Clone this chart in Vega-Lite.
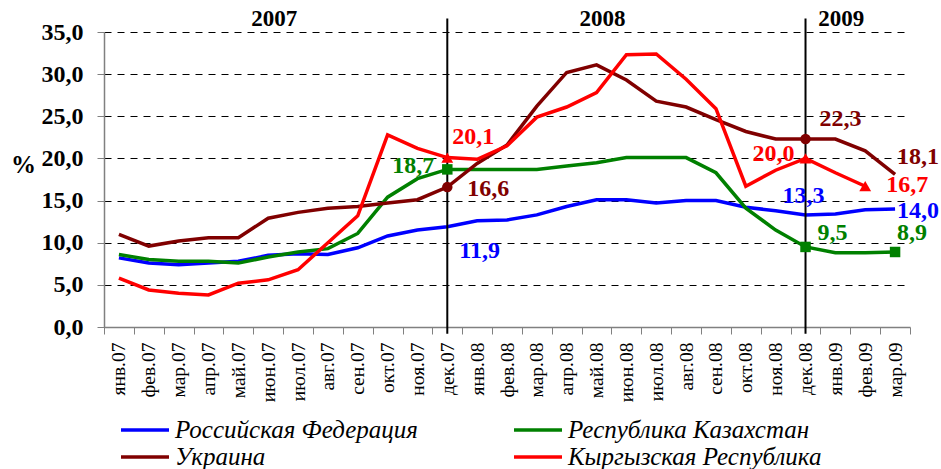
{
  "$schema": "https://vega.github.io/schema/vega-lite/v6.json",
  "width": 806,
  "height": 295,
  "padding": {"left": 10, "top": 8, "right": 5, "bottom": 5},
  "background": "white",
  "config": {
    "view": {"stroke": null},
    "font": "Liberation Serif",
    "locale": {"number": {"decimal": ",", "thousands": " ", "grouping": [3], "currency": ["", ""]}}
  },
  "datasets": {
    "series": [
      {"month": "янв.07", "country": "Российская Федерация", "value": 8.2},
      {"month": "фев.07", "country": "Российская Федерация", "value": 7.6},
      {"month": "мар.07", "country": "Российская Федерация", "value": 7.4},
      {"month": "апр.07", "country": "Российская Федерация", "value": 7.6},
      {"month": "май.07", "country": "Российская Федерация", "value": 7.8},
      {"month": "июн.07", "country": "Российская Федерация", "value": 8.5},
      {"month": "июл.07", "country": "Российская Федерация", "value": 8.7},
      {"month": "авг.07", "country": "Российская Федерация", "value": 8.6},
      {"month": "сен.07", "country": "Российская Федерация", "value": 9.4},
      {"month": "окт.07", "country": "Российская Федерация", "value": 10.8},
      {"month": "ноя.07", "country": "Российская Федерация", "value": 11.5},
      {"month": "дек.07", "country": "Российская Федерация", "value": 11.9},
      {"month": "янв.08", "country": "Российская Федерация", "value": 12.6},
      {"month": "фев.08", "country": "Российская Федерация", "value": 12.7},
      {"month": "мар.08", "country": "Российская Федерация", "value": 13.3},
      {"month": "апр.08", "country": "Российская Федерация", "value": 14.3},
      {"month": "май.08", "country": "Российская Федерация", "value": 15.1},
      {"month": "июн.08", "country": "Российская Федерация", "value": 15.1},
      {"month": "июл.08", "country": "Российская Федерация", "value": 14.7},
      {"month": "авг.08", "country": "Российская Федерация", "value": 15.0},
      {"month": "сен.08", "country": "Российская Федерация", "value": 15.0},
      {"month": "окт.08", "country": "Российская Федерация", "value": 14.2},
      {"month": "ноя.08", "country": "Российская Федерация", "value": 13.8},
      {"month": "дек.08", "country": "Российская Федерация", "value": 13.3},
      {"month": "янв.09", "country": "Российская Федерация", "value": 13.4},
      {"month": "фев.09", "country": "Российская Федерация", "value": 13.9},
      {"month": "мар.09", "country": "Российская Федерация", "value": 14.0},

      {"month": "янв.07", "country": "Республика Казахстан", "value": 8.6},
      {"month": "фев.07", "country": "Республика Казахстан", "value": 8.0},
      {"month": "мар.07", "country": "Республика Казахстан", "value": 7.8},
      {"month": "апр.07", "country": "Республика Казахстан", "value": 7.8},
      {"month": "май.07", "country": "Республика Казахстан", "value": 7.6},
      {"month": "июн.07", "country": "Республика Казахстан", "value": 8.3},
      {"month": "июл.07", "country": "Республика Казахстан", "value": 8.9},
      {"month": "авг.07", "country": "Республика Казахстан", "value": 9.3},
      {"month": "сен.07", "country": "Республика Казахстан", "value": 11.1},
      {"month": "окт.07", "country": "Республика Казахстан", "value": 15.4},
      {"month": "ноя.07", "country": "Республика Казахстан", "value": 17.6},
      {"month": "дек.07", "country": "Республика Казахстан", "value": 18.7},
      {"month": "янв.08", "country": "Республика Казахстан", "value": 18.7},
      {"month": "фев.08", "country": "Республика Казахстан", "value": 18.7},
      {"month": "мар.08", "country": "Республика Казахстан", "value": 18.7},
      {"month": "апр.08", "country": "Республика Казахстан", "value": 19.1},
      {"month": "май.08", "country": "Республика Казахстан", "value": 19.5},
      {"month": "июн.08", "country": "Республика Казахстан", "value": 20.1},
      {"month": "июл.08", "country": "Республика Казахстан", "value": 20.1},
      {"month": "авг.08", "country": "Республика Казахстан", "value": 20.1},
      {"month": "сен.08", "country": "Республика Казахстан", "value": 18.3},
      {"month": "окт.08", "country": "Республика Казахстан", "value": 14.1},
      {"month": "ноя.08", "country": "Республика Казахстан", "value": 11.5},
      {"month": "дек.08", "country": "Республика Казахстан", "value": 9.5},
      {"month": "янв.09", "country": "Республика Казахстан", "value": 8.8},
      {"month": "фев.09", "country": "Республика Казахстан", "value": 8.8},
      {"month": "мар.09", "country": "Республика Казахстан", "value": 8.9},

      {"month": "янв.07", "country": "Украина", "value": 11.0},
      {"month": "фев.07", "country": "Украина", "value": 9.6},
      {"month": "мар.07", "country": "Украина", "value": 10.2},
      {"month": "апр.07", "country": "Украина", "value": 10.6},
      {"month": "май.07", "country": "Украина", "value": 10.6},
      {"month": "июн.07", "country": "Украина", "value": 12.9},
      {"month": "июл.07", "country": "Украина", "value": 13.6},
      {"month": "авг.07", "country": "Украина", "value": 14.1},
      {"month": "сен.07", "country": "Украина", "value": 14.3},
      {"month": "окт.07", "country": "Украина", "value": 14.7},
      {"month": "ноя.07", "country": "Украина", "value": 15.1},
      {"month": "дек.07", "country": "Украина", "value": 16.6},
      {"month": "янв.08", "country": "Украина", "value": 19.4},
      {"month": "фев.08", "country": "Украина", "value": 21.6},
      {"month": "мар.08", "country": "Украина", "value": 26.2},
      {"month": "апр.08", "country": "Украина", "value": 30.2},
      {"month": "май.08", "country": "Украина", "value": 31.1},
      {"month": "июн.08", "country": "Украина", "value": 29.3},
      {"month": "июл.08", "country": "Украина", "value": 26.8},
      {"month": "авг.08", "country": "Украина", "value": 26.1},
      {"month": "сен.08", "country": "Украина", "value": 24.6},
      {"month": "окт.08", "country": "Украина", "value": 23.2},
      {"month": "ноя.08", "country": "Украина", "value": 22.3},
      {"month": "дек.08", "country": "Украина", "value": 22.3},
      {"month": "янв.09", "country": "Украина", "value": 22.3},
      {"month": "фев.09", "country": "Украина", "value": 20.9},
      {"month": "мар.09", "country": "Украина", "value": 18.1},

      {"month": "янв.07", "country": "Кыргызская Республика", "value": 5.8},
      {"month": "фев.07", "country": "Кыргызская Республика", "value": 4.4},
      {"month": "мар.07", "country": "Кыргызская Республика", "value": 4.0},
      {"month": "апр.07", "country": "Кыргызская Республика", "value": 3.8},
      {"month": "май.07", "country": "Кыргызская Республика", "value": 5.2},
      {"month": "июн.07", "country": "Кыргызская Республика", "value": 5.6},
      {"month": "июл.07", "country": "Кыргызская Республика", "value": 6.8},
      {"month": "авг.07", "country": "Кыргызская Республика", "value": 10.0},
      {"month": "сен.07", "country": "Кыргызская Республика", "value": 13.2},
      {"month": "окт.07", "country": "Кыргызская Республика", "value": 22.8},
      {"month": "ноя.07", "country": "Кыргызская Республика", "value": 21.2},
      {"month": "дек.07", "country": "Кыргызская Республика", "value": 20.1},
      {"month": "янв.08", "country": "Кыргызская Республика", "value": 19.9},
      {"month": "фев.08", "country": "Кыргызская Республика", "value": 21.5},
      {"month": "мар.08", "country": "Кыргызская Республика", "value": 24.9},
      {"month": "апр.08", "country": "Кыргызская Республика", "value": 26.1},
      {"month": "май.08", "country": "Кыргызская Республика", "value": 27.8},
      {"month": "июн.08", "country": "Кыргызская Республика", "value": 32.3},
      {"month": "июл.08", "country": "Кыргызская Республика", "value": 32.4},
      {"month": "авг.08", "country": "Кыргызская Республика", "value": 29.4},
      {"month": "сен.08", "country": "Кыргызская Республика", "value": 25.9},
      {"month": "окт.08", "country": "Кыргызская Республика", "value": 16.7},
      {"month": "ноя.08", "country": "Кыргызская Республика", "value": 18.6},
      {"month": "дек.08", "country": "Кыргызская Республика", "value": 20.0},
      {"month": "янв.09", "country": "Кыргызская Республика", "value": 18.3},
      {"month": "фев.09", "country": "Кыргызская Республика", "value": 16.7}
    ],
    "dividers": [{"month": "дек.07"}, {"month": "дек.08"}],
    "years": [
      {"month": "июн.07", "label": "2007"},
      {"month": "май.08", "label": "2008"},
      {"month": "янв.09", "label": "2009"}
    ]
  },
  "encoding": {
    "x": {
      "field": "month",
      "type": "ordinal",
      "scale": {
        "domain": ["янв.07","фев.07","мар.07","апр.07","май.07","июн.07","июл.07","авг.07","сен.07","окт.07","ноя.07","дек.07","янв.08","фев.08","мар.08","апр.08","май.08","июн.08","июл.08","авг.08","сен.08","окт.08","ноя.08","дек.08","янв.09","фев.09","мар.09"],
        "paddingInner": 0,
        "paddingOuter": 0
      },
      "axis": {
        "title": null,
        "labelAngle": -90,
        "labelFont": "Liberation Serif",
        "labelFontSize": 19.5,
        "labelColor": "black",
        "labelPadding": 8,
        "tickSize": 7,
        "tickBand": "extent",
        "tickColor": "#808080",
        "domainColor": "#808080",
        "domainWidth": 1.5,
        "grid": false
      }
    }
  },
  "layer": [
    {
      "data": {"name": "series"},
      "mark": {"type": "line", "strokeWidth": 3.5},
      "encoding": {
        "y": {
          "field": "value",
          "type": "quantitative",
          "scale": {"domain": [0, 35], "nice": false},
          "axis": {
            "values": [0, 5, 10, 15, 20, 25, 30, 35],
            "format": ".1f",
            "labelFont": "Liberation Serif",
            "labelFontSize": 24,
            "labelFontWeight": "bold",
            "labelColor": "black",
            "labelPadding": 14,
            "tickSize": 7,
            "tickColor": "#808080",
            "domainColor": "#808080",
            "domainWidth": 1.5,
            "grid": true,
            "gridColor": "black",
            "gridDash": [7, 6],
            "gridWidth": 1,
            "title": "%",
            "titleAngle": 0,
            "titleX": -81,
            "titleY": 132,
            "titleFont": "Liberation Serif",
            "titleFontSize": 25,
            "titleFontWeight": "bold",
            "titleColor": "black",
            "titleAlign": "center",
            "titleBaseline": "middle"
          }
        },
        "color": {
          "field": "country",
          "type": "nominal",
          "scale": {
            "domain": ["Российская Федерация", "Республика Казахстан", "Украина", "Кыргызская Республика"],
            "range": ["#0000FF", "#008000", "#800000", "#FF0000"]
          },
          "legend": {
            "title": null,
            "orient": "none",
            "direction": "horizontal",
            "legendX": 27,
            "legendY": 384,
            "columns": 2,
            "columnPadding": 89,
            "rowPadding": 0,
            "padding": 0,
            "symbolType": "M-2,0L2,0",
            "symbolSize": 576,
            "symbolStrokeWidth": 3.5,
            "labelFont": "Liberation Serif",
            "labelFontStyle": "italic",
            "labelFontSize": 25,
            "labelColor": "black",
            "labelOffset": 16,
            "labelLimit": 0
          }
        }
      }
    },
    {
      "data": {"name": "dividers"},
      "mark": {"type": "rule", "color": "black", "strokeWidth": 2},
      "encoding": {
        "y": {"datum": -0.8, "type": "quantitative", "scale": {"domain": [0, 35], "nice": false}},
        "y2": {"datum": 36.6}
      }
    },
    {
      "data": {"name": "years"},
      "mark": {"type": "text", "fontSize": 23, "fontWeight": "bold", "font": "Liberation Serif", "color": "black", "dx": 6, "baseline": "middle"},
      "encoding": {
        "y": {"datum": 36.5, "type": "quantitative", "scale": {"domain": [0, 35], "nice": false}},
        "text": {"field": "label"}
      }
    },
    {
      "data": {"name": "series"},
      "transform": [{"filter": "datum.country == 'Республика Казахстан' && (datum.month == 'дек.07' || datum.month == 'дек.08' || datum.month == 'мар.09')"}],
      "mark": {"type": "point", "shape": "square", "filled": true, "color": "#008000", "size": 110, "opacity": 1},
      "encoding": {"y": {"field": "value", "type": "quantitative", "scale": {"domain": [0, 35], "nice": false}}}
    },
    {
      "data": {"name": "series"},
      "transform": [{"filter": "datum.country == 'Украина' && (datum.month == 'дек.07' || datum.month == 'дек.08')"}],
      "mark": {"type": "point", "shape": "circle", "filled": true, "color": "#800000", "size": 110, "opacity": 1},
      "encoding": {"y": {"field": "value", "type": "quantitative", "scale": {"domain": [0, 35], "nice": false}}}
    },
    {
      "data": {"name": "series"},
      "transform": [{"filter": "datum.country == 'Кыргызская Республика' && (datum.month == 'дек.07' || datum.month == 'дек.08' || datum.month == 'фев.09')"}],
      "mark": {"type": "point", "shape": "triangle-up", "filled": true, "color": "#FF0000", "size": 140, "opacity": 1},
      "encoding": {"y": {"field": "value", "type": "quantitative", "scale": {"domain": [0, 35], "nice": false}}}
    },
    {
      "data": {"name": "series"},
      "transform": [{"filter": "datum.country == 'Республика Казахстан' && datum.month == 'дек.07'"}],
      "mark": {"type": "text", "font": "Liberation Serif", "fontSize": 24, "fontWeight": "bold", "baseline": "middle", "align": "right", "dx": -13, "dy": -3, "color": "#008000"},
      "encoding": {"y": {"field": "value", "type": "quantitative"}, "text": {"field": "value", "format": ".1f"}}
    },
    {
      "data": {"name": "series"},
      "transform": [{"filter": "datum.country == 'Кыргызская Республика' && datum.month == 'дек.07'"}],
      "mark": {"type": "text", "font": "Liberation Serif", "fontSize": 24, "fontWeight": "bold", "baseline": "middle", "align": "left", "dx": 5, "dy": -21, "color": "#FF0000"},
      "encoding": {"y": {"field": "value", "type": "quantitative"}, "text": {"field": "value", "format": ".1f"}}
    },
    {
      "data": {"name": "series"},
      "transform": [{"filter": "datum.country == 'Украина' && datum.month == 'дек.07'"}],
      "mark": {"type": "text", "font": "Liberation Serif", "fontSize": 24, "fontWeight": "bold", "baseline": "middle", "align": "left", "dx": 20, "dy": 2, "color": "#800000"},
      "encoding": {"y": {"field": "value", "type": "quantitative"}, "text": {"field": "value", "format": ".1f"}}
    },
    {
      "data": {"name": "series"},
      "transform": [{"filter": "datum.country == 'Российская Федерация' && datum.month == 'дек.07'"}],
      "mark": {"type": "text", "font": "Liberation Serif", "fontSize": 24, "fontWeight": "bold", "baseline": "middle", "align": "left", "dx": 12, "dy": 24, "color": "#0000FF"},
      "encoding": {"y": {"field": "value", "type": "quantitative"}, "text": {"field": "value", "format": ".1f"}}
    },
    {
      "data": {"name": "series"},
      "transform": [{"filter": "datum.country == 'Украина' && datum.month == 'дек.08'"}],
      "mark": {"type": "text", "font": "Liberation Serif", "fontSize": 24, "fontWeight": "bold", "baseline": "middle", "align": "left", "dx": 14, "dy": -20, "color": "#800000"},
      "encoding": {"y": {"field": "value", "type": "quantitative"}, "text": {"field": "value", "format": ".1f"}}
    },
    {
      "data": {"name": "series"},
      "transform": [{"filter": "datum.country == 'Кыргызская Республика' && datum.month == 'дек.08'"}],
      "mark": {"type": "text", "font": "Liberation Serif", "fontSize": 24, "fontWeight": "bold", "baseline": "middle", "align": "right", "dx": -11, "dy": -4, "color": "#FF0000"},
      "encoding": {"y": {"field": "value", "type": "quantitative"}, "text": {"field": "value", "format": ".1f"}}
    },
    {
      "data": {"name": "series"},
      "transform": [{"filter": "datum.country == 'Российская Федерация' && datum.month == 'дек.08'"}],
      "mark": {"type": "text", "font": "Liberation Serif", "fontSize": 24, "fontWeight": "bold", "baseline": "middle", "align": "center", "dx": -2, "dy": -19, "color": "#0000FF"},
      "encoding": {"y": {"field": "value", "type": "quantitative"}, "text": {"field": "value", "format": ".1f"}}
    },
    {
      "data": {"name": "series"},
      "transform": [{"filter": "datum.country == 'Республика Казахстан' && datum.month == 'дек.08'"}],
      "mark": {"type": "text", "font": "Liberation Serif", "fontSize": 24, "fontWeight": "bold", "baseline": "middle", "align": "left", "dx": 12, "dy": -14, "color": "#008000"},
      "encoding": {"y": {"field": "value", "type": "quantitative"}, "text": {"field": "value", "format": ".1f"}}
    },
    {
      "data": {"name": "series"},
      "transform": [{"filter": "datum.country == 'Республика Казахстан' && datum.month == 'мар.09'"}],
      "mark": {"type": "text", "font": "Liberation Serif", "fontSize": 24, "fontWeight": "bold", "baseline": "middle", "align": "left", "dx": 2, "dy": -19, "color": "#008000"},
      "encoding": {"y": {"field": "value", "type": "quantitative"}, "text": {"field": "value", "format": ".1f"}}
    },
    {
      "data": {"name": "series"},
      "transform": [{"filter": "datum.country == 'Украина' && datum.month == 'мар.09'"}],
      "mark": {"type": "text", "font": "Liberation Serif", "fontSize": 24, "fontWeight": "bold", "baseline": "middle", "align": "left", "dx": 2, "dy": -17, "color": "#800000"},
      "encoding": {"y": {"field": "value", "type": "quantitative"}, "text": {"field": "value", "format": ".1f"}}
    },
    {
      "data": {"name": "series"},
      "transform": [{"filter": "datum.country == 'Кыргызская Республика' && datum.month == 'фев.09'"}],
      "mark": {"type": "text", "font": "Liberation Serif", "fontSize": 24, "fontWeight": "bold", "baseline": "middle", "align": "left", "dx": 21, "dy": -1, "color": "#FF0000"},
      "encoding": {"y": {"field": "value", "type": "quantitative"}, "text": {"field": "value", "format": ".1f"}}
    },
    {
      "data": {"name": "series"},
      "transform": [{"filter": "datum.country == 'Российская Федерация' && datum.month == 'мар.09'"}],
      "mark": {"type": "text", "font": "Liberation Serif", "fontSize": 24, "fontWeight": "bold", "baseline": "middle", "align": "left", "dx": 2, "dy": 2, "color": "#0000FF"},
      "encoding": {"y": {"field": "value", "type": "quantitative"}, "text": {"field": "value", "format": ".1f"}}
    }
  ]
}
